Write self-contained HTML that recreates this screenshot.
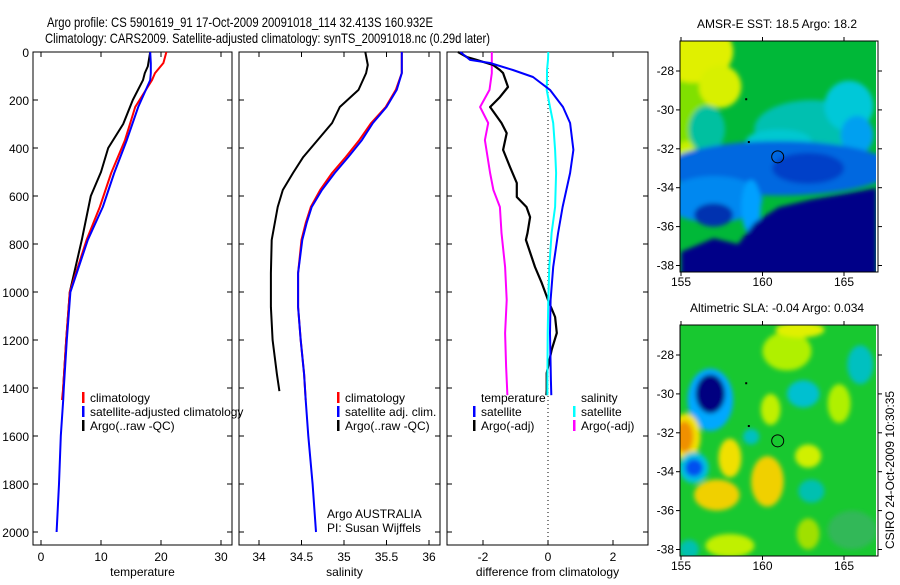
<!DOCTYPE html>
<html><head><meta charset="utf-8"><style>
body{margin:0;background:#fff;width:900px;height:580px;overflow:hidden}
svg text{font-family:"Liberation Sans",sans-serif;fill:#000}
</style></head><body>
<svg id="fig" width="900" height="580" viewBox="0 0 900 580" xmlns="http://www.w3.org/2000/svg">
<defs>
<filter id="blur" x="-5%" y="-5%" width="110%" height="110%"><feGaussianBlur stdDeviation="2.5"/></filter>
<clipPath id="c1"><rect x="680" y="41" width="196" height="231"/></clipPath>
<clipPath id="c2"><rect x="680" y="325" width="196" height="231"/></clipPath>
</defs>
<text x="47" y="27" font-size="14" textLength="386" lengthAdjust="spacingAndGlyphs">Argo profile: CS 5901619_91 17-Oct-2009 20091018_114 32.413S 160.932E</text>
<text x="45" y="43" font-size="14" textLength="445" lengthAdjust="spacingAndGlyphs">Climatology: CARS2009. Satellite-adjusted climatology: synTS_20091018.nc (0.29d later)</text>
<g id="plots"></g>
<g id="maps"></g>
<text transform="translate(894,470) rotate(-90)" text-anchor="middle" font-size="12">CSIRO 24-Oct-2009 10:30:35</text>
</svg>
<script>
// depth grid (m)
const depthT = [0,46,88,117,229,367,504,646,783,1000,1200,1400,1450,1600,1800,2000];
const tempClim = [20.9,20.4,19.0,18.5,15.7,14.0,11.7,9.8,7.6,4.8,4.2,3.7,3.5];
const tempSat = [18.2,18.3,18.3,18.2,16.2,14.3,12.2,10.3,7.8,4.9,4.3,3.8,3.7,3.3,3.0,2.6];
const depthArgoT = [0,60,88,117,200,300,400,500,600,783,1000,1200,1400,1450];
const tempArgo = [18.2,17.8,17.3,17.0,15.3,13.7,11.2,10.0,8.3,6.8,4.8,4.2,3.7,3.6];
const depthS = [0,88,158,229,296,367,438,504,575,646,713,783,921,1063,1200,1342,1450,1600,1800,2000];
const salClim = [35.68,35.68,35.61,35.49,35.32,35.18,35.02,34.86,34.72,34.61,34.55,34.50,34.46,34.46,34.49,34.53,34.55];
const salSat = [35.68,35.68,35.62,35.50,35.34,35.21,35.05,34.89,34.74,34.62,34.56,34.51,34.46,34.46,34.49,34.53,34.55,34.58,34.63,34.67];
const depthArgoS = [0,54,88,158,229,296,367,438,504,575,646,783,921,1063,1200,1342,1413];
const salArgo = [35.25,35.28,35.26,35.17,34.95,34.86,34.69,34.52,34.40,34.28,34.22,34.15,34.14,34.14,34.16,34.21,34.24];
const depthD = [0,33,46,75,104,158,229,296,408,504,646,754,896,1033,1171,1367,1430];
const dTSat = [-2.7,-2.4,-1.78,-1.08,-0.46,0.06,0.46,0.68,0.78,0.68,0.45,0.31,0.16,0.08,0.06,0.09,0.1];
const dSSat = [0.01,0.0,-0.01,-0.03,-0.03,-0.04,0.06,0.16,0.22,0.25,0.22,0.11,0.04,0.01,-0.01,-0.02,-0.02];
const depthDA = [0,21,33,54,75,88,146,188,229,296,338,408,479,546,604,646,688,754,783,896,963,1033,1104,1171,1242,1338,1408,1430];
const dTArgo = [-2.77,-2.5,-2.19,-1.69,-1.48,-1.38,-1.23,-1.48,-1.78,-1.43,-1.27,-1.38,-1.17,-0.96,-0.96,-0.66,-0.55,-0.63,-0.68,-0.4,-0.19,0,0.22,0.27,0.11,-0.04,-0.04,-0.05];
const depthDS = [0,88,158,229,296,367,504,575,646,754,896,1033,1171,1310,1430];
const dSArgo = [-1.73,-1.73,-1.8,-2.09,-1.84,-1.94,-1.78,-1.68,-1.48,-1.43,-1.32,-1.27,-1.32,-1.29,-1.25];
const depthTicks = [0,200,400,600,800,1000,1200,1400,1600,1800,2000];
const tempTicks = [0,10,20,30];
const salTicks = [34,34.5,35,35.5,36];
const diffTicks = [-2,0,2];

const NS='http://www.w3.org/2000/svg';
function mk(tag,attrs,parent){const e=document.createElementNS(NS,tag);for(const k in attrs)e.setAttribute(k,attrs[k]);parent.appendChild(e);return e;}
const plots=document.getElementById('plots');
const yD = d => 52 + 0.24*d;
const panels = [
 {name:'temperature-panel', x0:33, x1:232, fx: v=>41+6*v, ticks:tempTicks, label:'temperature', yl:true},
 {name:'salinity-panel', x0:239, x1:440, fx: v=>344+85*(v-35), ticks:salTicks, label:'salinity', yl:false},
 {name:'difference-panel', x0:447, x1:648, fx: v=>548+32.5*v, ticks:diffTicks, label:'difference from climatology', yl:false}
];
function line(g,p,vals,deps,color,w,nm){
  let pts=vals.map((v,i)=>p.fx(v).toFixed(1)+','+yD(deps[i]).toFixed(1)).join(' ');
  const e=mk('polyline',{points:pts,fill:'none',stroke:color,'stroke-width':w,'stroke-linejoin':'round'},g);
  
  
}
panels.forEach((p,pi)=>{
  const g=mk('g',{},plots);
  
  
  const fr=mk('rect',{x:p.x0,y:52,width:p.x1-p.x0,height:493,fill:'none',stroke:'#000','stroke-width':1},g);
  
  
  depthTicks.forEach(d=>{
    const y=yD(d);
    mk('line',{x1:p.x0,y1:y,x2:p.x0+5,y2:y,stroke:'#000'},g);
    mk('line',{x1:p.x1,y1:y,x2:p.x1-5,y2:y,stroke:'#000'},g);
    if(p.yl){const t=mk('text',{x:p.x0-4,y:y+5,'text-anchor':'end','font-size':12},g);t.textContent=d;
      
      }
  });
  p.ticks.forEach(v=>{
    const x=p.fx(v);
    mk('line',{x1:x,y1:52,x2:x,y2:57,stroke:'#000'},g);
    mk('line',{x1:x,y1:545,x2:x,y2:540,stroke:'#000'},g);
    const t=mk('text',{x:x,y:561,'text-anchor':'middle','font-size':12},g);t.textContent=v;
    
    
  });
  const xt=mk('text',{x:(p.x0+p.x1)/2-(pi==0?-10:pi==1?-5:0),y:576,'text-anchor':'middle','font-size':12},g);xt.textContent=p.label;
  
  
  if(pi==0){
    line(g,p,tempArgo,depthArgoT,'#000',2,'argo-temperature-line');
    line(g,p,tempClim,depthT,'#f00',2,'climatology-temperature-line');
    line(g,p,tempSat,depthT,'#00f',2,'satellite-temperature-line');
  } else if(pi==1){
    line(g,p,salArgo,depthArgoS,'#000',2,'argo-salinity-line');
    line(g,p,salClim,depthS,'#f00',2,'climatology-salinity-line');
    line(g,p,salSat,depthS,'#00f',2,'satellite-salinity-line');
  } else {
    const z=mk('line',{x1:p.fx(0),y1:52,x2:p.fx(0),y2:545,stroke:'#000','stroke-dasharray':'1,3'},g);
    
    
    line(g,p,dSArgo,depthDS,'#f0f',2,'argo-salinity-diff-line');
    line(g,p,dTArgo,depthDA,'#000',2.2,'argo-temperature-diff-line');
    line(g,p,dSSat,depthD,'#0ff',2,'satellite-salinity-diff-line');
    line(g,p,dTSat,depthD,'#00f',2,'satellite-temperature-diff-line');
  }
});
function legend(x,y,color,text,nm){
  const g=mk('g',{},plots);
  
  
  if(color) mk('rect',{x:x,y:y-10,width:2.5,height:11,fill:color},g);
  const t=mk('text',{x:x+8,y:y,'font-size':12},g);t.textContent=text;
}
legend(82,402,'#f00','climatology','legend-climatology');
legend(82,416,'#00f','satellite-adjusted climatology','legend-satellite');
legend(82,430,'#000','Argo(..raw -QC)','legend-argo');
legend(337,402,'#f00','climatology','legend-climatology-s');
legend(337,416,'#00f','satellite adj. clim.','legend-satellite-s');
legend(337,430,'#000','Argo(..raw -QC)','legend-argo-s');
legend(473,402,null,'temperature','legend-temperature-header');
legend(473,416,'#00f','satellite','legend-temp-satellite');
legend(473,430,'#000','Argo(-adj)','legend-temp-argo');
legend(573,402,null,'salinity','legend-salinity-header');
legend(573,416,'#0ff','satellite','legend-sal-satellite');
legend(573,430,'#f0f','Argo(-adj)','legend-sal-argo');
legend(319,518,null,'Argo AUSTRALIA','credit-argo-australia');
legend(319,532,null,'PI: Susan Wijffels','credit-pi');
// maps
const lonTicks=[155,160,165];
const latTicks=[-28,-30,-32,-34,-36,-38];
const sstBase='#00b838';
const sstBlobs=[[155.5,-30,1.3,3,'#80e000'],[155.8,-27,2.4,1.6,'#e0f000'],[157.4,-28.8,1.3,1.1,'#d8f000'],[155.3,-32.6,0.6,1,'#c8f000'],
 [156.6,-31,1.1,1.2,'#00c0a0'],[163,-31,3.5,1.5,'#00c0b0'],[165.3,-29.8,1.5,1.3,'#00c8d8'],[165.8,-31.3,1,1,'#00a0f0'],[161,-31.6,2,0.6,'#00c8d0'],
 [161,-33,7,1.4,'#0068e0'],[162.8,-33,2.2,0.8,'#0040c8'],[157,-34.6,3,1.2,'#0088f0'],[157,-35.4,1.2,0.6,'#0030b0'],[159.3,-35,0.6,1.4,'#00a0ff']];
const sstNavy=[[155,-38.6],[155,-37.3],[157,-36.6],[158.5,-36.9],[159.5,-35.8],[161,-35],[163,-34.6],[167,-34],[167,-38.6]];
const slaBase='#18c830';
const slaBlobs=[[156.8,-30.3,1.4,1.6,'#00a8ff'],[156.8,-30,0.9,1,'#000080'],[155.3,-32.2,0.9,1.2,'#f0e000'],[155.2,-32.2,0.55,0.8,'#f09000'],
 [155.8,-33.8,0.9,0.8,'#00c0e0'],[155.8,-33.8,0.55,0.45,'#0050f0'],[157.2,-35.2,1.4,0.8,'#f0d000'],[158,-33.3,0.7,1,'#f0e000'],
 [160.3,-34.5,1,1.3,'#f0d000'],[162.8,-33.2,0.8,0.6,'#d0f000'],[160.5,-30.8,0.6,0.8,'#c0f000'],[161.5,-27.8,1.5,1,'#b0f000'],
 [164.7,-30.5,0.7,1,'#b0f000'],[162.3,-26.7,1.5,0.4,'#e0f000'],[158,-37.8,1.5,0.6,'#c0f000'],[162.8,-37.2,0.7,0.8,'#a0e000'],
 [162.5,-30,1,0.7,'#00c0d0'],[159.3,-32.2,0.5,0.4,'#00c0c0'],[163,-35,0.8,0.6,'#00c0b0'],[166,-28.5,0.8,1,'#00c0c0'],[165.5,-37,1.5,1,'#30b858'],[155.5,-38,0.6,0.5,'#00c0b0']];
const argoPos=[160.932,-32.413];
const maps=document.getElementById('maps');
function drawMap(nm,top,bottomLat28,clip,base,blobs,navy,title){
  const fx=lon=>681+16.3*(lon-155);
  const fy=lat=>bottomLat28+19.45*(-28-lat);
  const g=mk('g',{},maps);
  
  
  const img=mk('g',{'clip-path':'url(#'+clip+')'},g);
  mk('rect',{x:670,y:top-10,width:220,height:250,fill:base},img);
  const bl=mk('g',{filter:'url(#blur)'},img);
  blobs.forEach(b=>{const e=mk('ellipse',{cx:fx(b[0]),cy:fy(b[1]),rx:16.3*b[2],ry:19.45*b[3],fill:b[4]},bl);
    
    });
  if(navy){const e=mk('polygon',{points:navy.map(p=>fx(p[0])+','+fy(p[1])).join(' '),fill:'#000088'},bl);
    
    }
  mk('rect',{x:680,y:top,width:198,height:231,fill:'none',stroke:'#000'},g);
  latTicks.forEach(l=>{const y=fy(l);mk('line',{x1:680,y1:y,x2:676,y2:y,stroke:'#000'},g);mk('line',{x1:878,y1:y,x2:882,y2:y,stroke:'#000'},g);
    const t=mk('text',{x:674,y:y+4,'text-anchor':'end','font-size':12},g);t.textContent=l;
    
    });
  lonTicks.forEach(l=>{const x=fx(l);mk('line',{x1:x,y1:top,x2:x,y2:top-4,stroke:'#000'},g);mk('line',{x1:x,y1:top+231,x2:x,y2:top+235,stroke:'#000'},g);
    const t=mk('text',{x:x,y:top+245,'text-anchor':'middle','font-size':12},g);t.textContent=l;
    
    });
  const c=mk('circle',{cx:fx(argoPos[0]),cy:fy(argoPos[1]),r:6,fill:'none',stroke:'#000'},g);
  
  
  mk('rect',{x:fx(159)-1,y:fy(-29.4),width:2,height:2,fill:'#000'},g);
  mk('rect',{x:fx(159.1),y:fy(-31.6),width:2,height:2,fill:'#000'},g);
  const t=mk('text',{x:777,y:top-13,'text-anchor':'middle','font-size':12},g);t.textContent=title;
  
  
}
drawMap('sst-map',41,71,'c1',sstBase,sstBlobs,sstNavy,'AMSR-E SST: 18.5 Argo: 18.2');
drawMap('sla-map',325,355,'c2',slaBase,slaBlobs,null,'Altimetric SLA: -0.04 Argo: 0.034');
</script>
</body></html>
